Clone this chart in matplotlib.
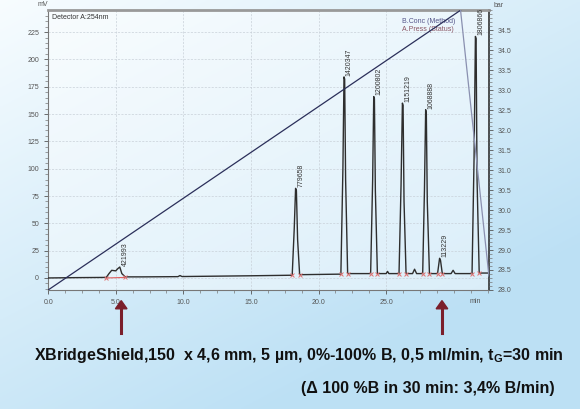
import numpy as np
import matplotlib
matplotlib.use("Agg")
import matplotlib.pyplot as plt

plt.rcParams['font.family'] = ['Liberation Sans', 'DejaVu Sans']
plt.rcParams['mathtext.fontset'] = 'custom'
plt.rcParams['mathtext.rm'] = 'Liberation Sans:bold'
plt.rcParams['mathtext.it'] = 'Liberation Sans:bold'

# Chromatogram trace (min, mV)
trace_t = [0.0, 2.0, 4.3, 4.5, 4.7, 5.0, 5.15, 5.3, 5.45, 5.7, 7.0, 9.6, 9.75, 9.9,
           15.0, 18.05, 18.2, 18.3, 18.36, 18.45, 18.6, 21.65, 21.8, 21.88, 21.93,
           22.0, 22.15, 23.85, 24.0, 24.08, 24.13, 24.2, 24.35, 25.0, 25.1, 25.2,
           25.95, 26.1, 26.2, 26.25, 26.32, 26.47, 26.95, 27.1, 27.25, 27.7, 27.83,
           27.92, 27.97, 28.04, 28.2, 28.8, 28.95, 29.02, 29.15, 29.8, 29.95, 30.1,
           31.35, 31.5, 31.6, 31.65, 31.72, 31.88, 32.6]
trace_mv = [0.0, 0.3, 0.5, 4.0, 7.0, 6.5, 8.5, 10.0, 4.0, 1.0, 1.0, 1.2, 2.2, 1.3,
            2.0, 2.5, 45.0, 82.0, 80.0, 35.0, 3.0, 3.5, 100.0, 184.0, 182.0,
            90.0, 4.0, 4.0, 90.0, 166.0, 164.0, 80.0, 4.0, 4.0, 6.0, 4.0,
            4.0, 85.0, 160.0, 158.0, 70.0, 4.0, 4.0, 8.0, 4.0, 4.0, 80.0,
            154.0, 150.0, 70.0, 4.0, 4.0, 18.0, 16.0, 4.0, 4.0, 7.0, 4.0,
            4.0, 110.0, 221.0, 219.0, 90.0, 4.5, 4.5]

# integration marks (start / end of each peak)
mark_t = [4.3, 5.7, 18.05, 18.6, 21.65, 22.15, 23.85, 24.35, 25.95, 26.47,
          27.7, 28.2, 28.8, 29.15, 31.35, 31.88]
mark_mv = [0.0, 0.5, 2.5, 3.0, 3.5, 4.0, 4.0, 4.0, 4.0, 4.0,
           4.0, 4.0, 4.0, 4.0, 4.0, 4.5]

# peak areas
peak_t = [5.3, 18.3, 21.88, 24.08, 26.2, 27.92, 28.95, 31.6]
peak_mv = [10.0, 82.0, 184.0, 166.0, 160.0, 154.0, 18.0, 221.0]
peak_lbl = ["421993", "779658", "1420347", "1200802", "1151219", "1068888",
            "113229", "1806866"]

# gradient %B (method)
grad_t = [0.0, 30.5, 32.6]
grad_b = [0.0, 100.0, 5.0]

fig = plt.figure(figsize=(5.8, 4.09), dpi=100)

# light blue background
bg = fig.add_axes([0, 0, 1, 1], zorder=-10)
yy, xx = np.mgrid[0:1:200j, 0:1:200j]
g = np.clip(0.55 * xx + 0.75 * yy, 0, 1)
c0 = np.array([0.97, 0.99, 1.0])
c1 = np.array([0.74, 0.88, 0.96])
img = c0 + (c1 - c0) * g[..., None]
bg.imshow(img, extent=[0, 1, 0, 1], aspect='auto', origin='upper')
bg.axis('off')

ax = fig.add_axes([0.083, 0.291, 0.76, 0.684])
ax.set_facecolor((1, 1, 1, 0.45))
ax.plot(trace_t, trace_mv, color='#2e2e2e', lw=1.0, zorder=4)
ax.plot([4.3, 5.7], [0.0, 0.5], color='#e06060', lw=0.8, zorder=3)
ax.scatter(mark_t, mark_mv, marker='x', s=8, color='#e07070', lw=0.7, zorder=5)
for t, h, s in zip(peak_t, peak_mv, peak_lbl):
    ax.text(t + 0.12, h + 1, s, rotation=90, fontsize=5, color='#333333',
            ha='left', va='bottom', zorder=6)

ax.set_xlim(0, 32.6)
ax.set_ylim(-11, 245)
ax.set_xticks([0, 5, 10, 15, 20, 25])
ax.set_xticklabels(["0.0", "5.0", "10.0", "15.0", "20.0", "25.0"])
ax.set_xticks(np.arange(0, 33, 1.25), minor=True)
ax.set_yticks([0, 25, 50, 75, 100, 125, 150, 175, 200, 225])
ax.set_yticks(np.arange(-10, 245, 5), minor=True)
ax.tick_params(labelsize=5, colors='#555555', length=3, width=0.6)
ax.tick_params(which='minor', length=2, width=0.5, color='#777777')
ax.grid(True, color='#c8d0d8', ls=(0, (3, 2)), lw=0.5)
for sp in ['left', 'bottom']:
    ax.spines[sp].set_color('#777777')
    ax.spines[sp].set_linewidth(0.8)
ax.spines['top'].set_color('#999999')
ax.spines['top'].set_linewidth(2.0)
ax.spines['right'].set_color('#333333')
ax.spines['right'].set_linewidth(1.2)
ax.text(31.6, -21.5, "min", fontsize=5, color='#555555', ha='center', va='center')
ax.text(-0.8, 247, "mV", fontsize=5, color='#555555', ha='left', va='bottom')
ax.text(0.25, 242, "Detector A:254nm", fontsize=5, color='#333333', ha='left', va='top')
ax.text(26.2, 238, "B.Conc (Method)", fontsize=5, color='#55558a', ha='left', va='top')
ax.text(26.2, 231, "A.Press (Status)", fontsize=5, color='#8a5563', ha='left', va='top')

# pressure axis (bar)
ax2 = ax.twinx()
ax2.set_ylim(28.0, 35.0)
ax2.set_yticks(np.arange(28.0, 34.6, 0.5))
ax2.set_yticklabels(["%.1f" % v for v in np.arange(28.0, 34.6, 0.5)])
ax2.set_yticks(np.arange(28.0, 35.01, 0.1), minor=True)
ax2.tick_params(labelsize=5, colors='#555555', length=3, width=0.6)
ax2.tick_params(which='minor', length=2, width=0.5, color='#777777')
for sp in ax2.spines.values():
    sp.set_visible(False)
ax2.text(1.01, 1.005, "bar", transform=ax2.transAxes, fontsize=5,
         color='#555555', ha='left', va='bottom')

# gradient axis (hidden)
ax3 = ax.twinx()
ax3.set_ylim(0, 100)
ax3.axis('off')
ax3.plot(grad_t[:2], grad_b[:2], color='#2b2f5a', lw=0.9)
ax3.plot(grad_t[1:], grad_b[1:], color='#8a90b0', lw=0.9)

# arrows
for x in [0.209, 0.762]:
    fig.add_artist(plt.Line2D([x, x], [0.185, 0.245], color='#7b1f2b', lw=2.2,
                              transform=fig.transFigure))
    fig.patches.append(plt.Polygon([[x - 0.010, 0.245], [x + 0.010, 0.245],
                                    [x, 0.265]], closed=True, color='#7b1f2b',
                                   transform=fig.transFigure, figure=fig))

fig.text(0.515, 0.13,
         r"XBridgeShield,150  x 4,6 mm, 5 µm, 0%-100% B, 0,5 ml/min, $\mathrm{t_G}$=30 min",
         fontsize=11.5, fontweight='bold', ha='center', va='center', color='#111111')
fig.text(0.738, 0.049, "(Δ 100 %B in 30 min: 3,4% B/min)",
         fontsize=11.5, fontweight='bold', ha='center', va='center', color='#111111')

fig.savefig("out.png", dpi=100)
